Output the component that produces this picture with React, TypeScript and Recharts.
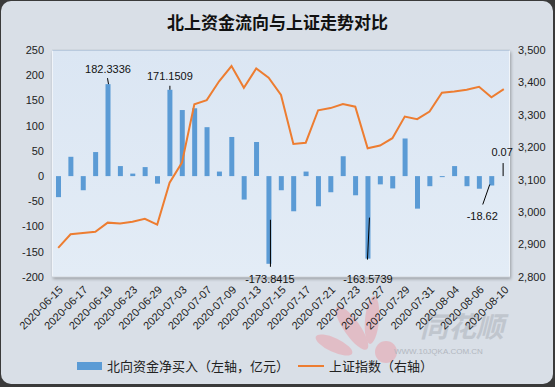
import { ComposedChart, Bar, Line, XAxis, YAxis, CartesianGrid, LabelList } from 'recharts'

// 交易日
const dates = [
  '2020-06-15', '2020-06-16', '2020-06-17', '2020-06-18', '2020-06-19', '2020-06-22', '2020-06-23', '2020-06-24',
  '2020-06-29', '2020-07-02', '2020-07-03', '2020-07-06', '2020-07-07', '2020-07-08', '2020-07-09', '2020-07-10',
  '2020-07-13', '2020-07-14', '2020-07-15', '2020-07-16', '2020-07-17', '2020-07-20', '2020-07-21', '2020-07-22',
  '2020-07-23', '2020-07-24', '2020-07-27', '2020-07-28', '2020-07-29', '2020-07-30', '2020-07-31', '2020-08-03',
  '2020-08-04', '2020-08-05', '2020-08-06', '2020-08-07', '2020-08-10',
]

// 北向资金净买入（亿元）
const northFlow = [
  -41.7, 38.3, -28, 47.7, 182.3336, 19.9, 5, 17.9, -15, 171.1509, 131, 134.5, 97, 9, 77.6, -46.5, 67.6,
  -173.8415, -28, -69.7, 9, -59.8, -32, 39.4, -38, -163.5739, -16.4, -24.4, 74.6, -64.5, -20, -2, 19.9,
  -20, -25, -18.62, 0.07,
]

// 上证指数收盘
const shIndex = [
  2890.03, 2931.75, 2935.87, 2939.32, 2967.63, 2965.27, 2970.62, 2979.55, 2961.52, 3090.57, 3152.81, 3332.88,
  3345.34, 3403.44, 3450.59, 3383.32, 3443.29, 3414.62, 3361.3, 3210.1, 3214.13, 3314.15, 3320.9, 3333.16,
  3325.11, 3196.77, 3205.23, 3227.96, 3294.55, 3286.82, 3310.01, 3367.97, 3371.69, 3377.56, 3386.46, 3354.04,
  3379.25,
]

const leftTicks = [-200, -150, -100, -50, 0, 50, 100, 150, 200, 250]
const rightTicks = [2800, 2900, 3000, 3100, 3200, 3300, 3400, 3500]

// 标注的柱子
const labelledIndexes = [4, 9, 17, 25, 35, 36]

// 标注位置（相对柱端）
const calloutStyle: Record<number, { tx: number; ty: number; line: [number, number, number, number] }> = {
  4: { tx: 0, ty: -11, line: [-0.5, -6, 0.5, 0] },
  9: { tx: 0, ty: -9.5, line: [0, -4, 0, 0] },
  17: { tx: 1, ty: 19, line: [1.5, -44, 1.5, 3] },
  25: { tx: 0, ty: 24, line: [1.5, -41, -0.5, 1] },
  35: { tx: -9.5, ty: 34, line: [-2, -1, -9, 19] },
  36: { tx: -2, ty: -20, line: [-1, -13, -1, 0] },
}

const data = dates.map((date, i) => ({ date, flow: northFlow[i], sh: shIndex[i] }))

const BLUE = '#5b9bd5'
const ORANGE = '#ed7d31'
const SANS = '"Liberation Sans", Arial, sans-serif'
const CJK = '"Noto Sans CJK SC", sans-serif'

function Callout(props: any) {
  const { x, y, width, height, index, value } = props
  if (!labelledIndexes.includes(index)) return null
  const s = calloutStyle[index]
  const cx = Number(x) + Number(width) / 2
  const y0 = Number(y)
  const y1 = Number(y) + Number(height)
  const endY = value >= 0 ? Math.min(y0, y1) : Math.max(y0, y1)
  return (
    <g>
      <line x1={cx + s.line[0]} y1={endY + s.line[1]} x2={cx + s.line[2]} y2={endY + s.line[3]} stroke="#000" strokeWidth={1} />
      <text x={cx + s.tx} y={endY + s.ty} textAnchor="middle" fontSize={11} fill="#111" fontFamily={SANS}>
        {String(value)}
      </text>
    </g>
  )
}

export default function App() {
  return (
    <div style={{ position: 'absolute', left: 0, top: 0, width: 555, height: 387, background: '#3a3a3a', overflow: 'hidden' }}>
      <div style={{ position: 'absolute', left: 1, top: 1, width: 552, height: 383, background: '#d9dfe7', borderRadius: 10 }} />

      {/* 标题 */}
      <div style={{ position: 'absolute', left: 0, top: 9, width: 555, textAlign: 'center', fontFamily: CJK, fontWeight: 700, fontSize: 17, color: '#111' }}>
        北上资金流向与上证走势对比
      </div>

      {/* 绘图区背景 */}
      <div style={{
        position: 'absolute', left: 52, top: 50, width: 458, height: 227,
        background: 'linear-gradient(#dbe6f3, #e3ecf6)', border: '1px solid #f0f4f9', borderTopColor: '#a9c4e4',
        boxSizing: 'border-box', boxShadow: '1px 2px 3px rgba(0,0,0,0.3)',
      }} />

      {/* 水印 */}
      <svg width={555} height={387} style={{ position: 'absolute', left: 0, top: 0 }}>
        <g opacity={0.4} fill="#ef8c97">
          <ellipse cx={352} cy={328} rx={8} ry={26} transform="rotate(-35 352 328)" />
          <ellipse cx={372} cy={320} rx={7} ry={24} transform="rotate(5 372 320)" />
          <ellipse cx={334} cy={345} rx={7} ry={20} transform="rotate(-65 334 345)" />
          <circle cx={386} cy={352} r={11} />
        </g>
        <text x={420} y={337} fontSize={28} fontStyle="italic" fontWeight={700} fill="#a9aeb6" opacity={0.5} fontFamily={CJK}>同花顺</text>
        <text x={394} y={354} fontSize={8} fill="#b2b7bf" fontFamily={SANS}>WWW.10JQKA.COM.CN</text>
      </svg>

      <div style={{ position: 'absolute', left: 0, top: 0, fontFamily: SANS }}>
        <ComposedChart width={555} height={387} data={data} margin={{ top: 50, right: 0, bottom: 50, left: 0 }}>
          <CartesianGrid vertical={false} stroke="#c9d0d8" strokeWidth={1} />
          <XAxis
            dataKey="date"
            interval={1}
            angle={-45}
            textAnchor="end"
            height={60}
            axisLine={false}
            tickLine={false}
            tick={{ fontSize: 11, fill: '#222' }}
          />
          <YAxis
            yAxisId="left"
            width={52}
            domain={[-200, 250]}
            ticks={leftTicks}
            axisLine={false}
            tickLine={false}
            tick={{ fontSize: 11, fill: '#222' }}
          />
          <YAxis
            yAxisId="right"
            orientation="right"
            width={45}
            domain={[2800, 3500]}
            ticks={rightTicks}
            axisLine={false}
            tickLine={false}
            tick={{ fontSize: 11, fill: '#222' }}
            tickFormatter={(v) => v.toLocaleString('en-US')}
          />
          <Bar yAxisId="left" dataKey="flow" fill={BLUE} barSize={5} isAnimationActive={false}>
            <LabelList dataKey="flow" content={Callout} />
          </Bar>
          <Line yAxisId="right" dataKey="sh" stroke={ORANGE} strokeWidth={2} dot={false} type="linear" isAnimationActive={false} />
        </ComposedChart>
      </div>

      {/* 图例 */}
      <div style={{ position: 'absolute', left: 77, top: 356, display: 'flex', alignItems: 'center', fontFamily: CJK, fontSize: 13, color: '#222', whiteSpace: 'nowrap' }}>
        <span style={{ display: 'inline-block', width: 25, height: 8, background: BLUE, marginRight: 5 }} />
        <span>北向资金净买入（左轴，亿元）</span>
        <span style={{ display: 'inline-block', width: 26, height: 2, background: ORANGE, margin: '0 5px 0 9px' }} />
        <span>上证指数（右轴）</span>
      </div>
    </div>
  )
}
